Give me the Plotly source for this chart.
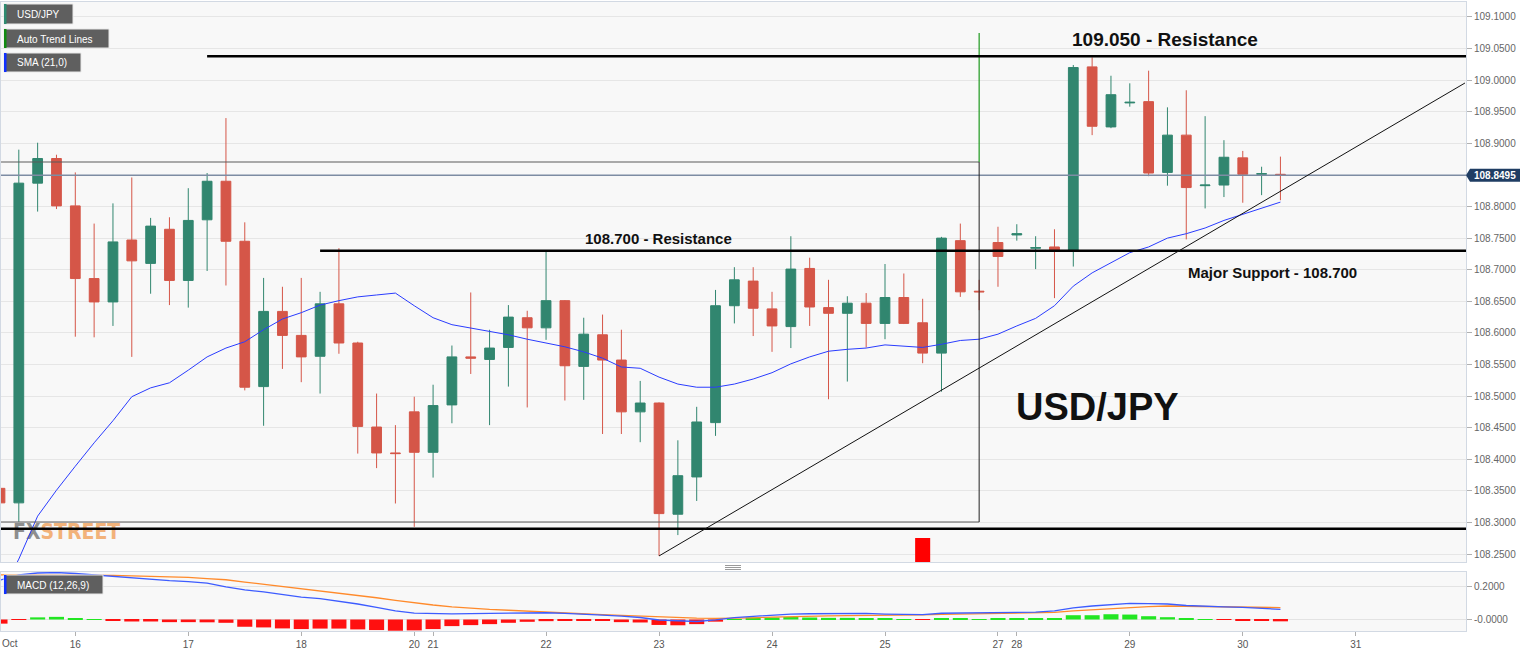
import plotly.graph_objects as go

# ---------------- DATA (4-hour candles, index 0 = Oct 16 00:00) ----------------
idx = list(range(-4, 65))

opens = [108.354, 108.331, 108.837, 108.876, 108.801, 108.686, 108.649, 108.747, 108.710, 108.764,
         108.683, 108.779, 108.840, 108.745, 108.515, 108.634, 108.596, 108.563, 108.646, 108.584,
         108.451, 108.410, 108.475, 108.411, 108.486, 108.562, 108.558, 108.577, 108.624, 108.608,
         108.651, 108.547, 108.597, 108.557, 108.475, 108.489, 108.313, 108.372, 108.458, 108.643,
         108.682, 108.638, 108.610, 108.702, 108.640, 108.631, 108.647, 108.615, 108.656, 108.616,
         108.568, 108.746, 108.666, 108.743, 108.755, 108.734, 108.736, 108.731, 109.021, 108.926,
         108.964, 108.966, 108.854, 108.913, 108.833, 108.834, 108.877, 108.851, 108.851]
highs = [108.410, 108.890, 108.901, 108.882, 108.854, 108.773, 108.805, 108.846, 108.782, 108.783,
         108.829, 108.853, 108.940, 108.775, 108.687, 108.673, 108.687, 108.665, 108.734, 108.586,
         108.504, 108.454, 108.499, 108.518, 108.580, 108.664, 108.605, 108.644, 108.635, 108.730,
         108.652, 108.624, 108.629, 108.605, 108.524, 108.490, 108.430, 108.483, 108.668, 108.704,
         108.704, 108.665, 108.753, 108.719, 108.684, 108.658, 108.663, 108.709, 108.694, 108.654,
         108.752, 108.773, 108.684, 108.768, 108.772, 108.753, 108.764, 109.024, 109.036, 109.007,
         108.995, 109.015, 108.957, 108.984, 108.943, 108.905, 108.888, 108.863, 108.879]
lows = [108.323, 108.301, 108.792, 108.796, 108.594, 108.593, 108.611, 108.562, 108.662, 108.644,
        108.640, 108.698, 108.675, 108.509, 108.453, 108.543, 108.522, 108.504, 108.567, 108.409,
        108.386, 108.330, 108.293, 108.371, 108.457, 108.535, 108.454, 108.515, 108.482, 108.589,
        108.493, 108.494, 108.440, 108.440, 108.427, 108.247, 108.280, 108.334, 108.437, 108.615,
        108.595, 108.570, 108.576, 108.611, 108.495, 108.523, 108.577, 108.590, 108.614, 108.552,
        108.507, 108.657, 108.636, 108.673, 108.746, 108.701, 108.655, 108.705, 108.913, 108.924,
        108.958, 108.848, 108.833, 108.748, 108.797, 108.815, 108.806, 108.818, 108.810]
closes = [108.331, 108.837, 108.876, 108.801, 108.686, 108.649, 108.744, 108.714, 108.769, 108.683,
          108.778, 108.840, 108.745, 108.514, 108.634, 108.596, 108.562, 108.646, 108.584, 108.452,
          108.410, 108.409, 108.411, 108.485, 108.562, 108.560, 108.576, 108.625, 108.608, 108.651,
          108.548, 108.598, 108.557, 108.475, 108.489, 108.314, 108.374, 108.459, 108.643, 108.684,
          108.639, 108.611, 108.701, 108.641, 108.631, 108.647, 108.615, 108.656, 108.615, 108.568,
          108.750, 108.665, 108.665, 108.721, 108.757, 108.735, 108.731, 109.020, 108.927, 108.977,
          108.965, 108.853, 108.913, 108.830, 108.834, 108.878, 108.851, 108.852, 108.8495]

sma21 = [108.184, 108.242, 108.310, 108.351, 108.389, 108.426, 108.461, 108.499, 108.513, 108.521,
         108.541, 108.562, 108.576, 108.586, 108.605, 108.622, 108.632, 108.644, 108.651, 108.657,
         108.660, 108.663, 108.643, 108.624, 108.613, 108.608, 108.603, 108.597, 108.590, 108.584,
         108.578, 108.570, 108.560, 108.546, 108.544, 108.530, 108.519, 108.514, 108.514, 108.519,
         108.527, 108.537, 108.551, 108.562, 108.571, 108.574, 108.576, 108.581, 108.579, 108.577,
         108.582, 108.588, 108.590, 108.598, 108.611, 108.623, 108.643, 108.674, 108.695, 108.711,
         108.727, 108.736, 108.750, 108.757, 108.766, 108.778, 108.788, 108.797, 108.807]

macd_line = [0.239, 0.270, 0.282, 0.285, 0.279, 0.270, 0.261, 0.252, 0.245, 0.236,
             0.230, 0.221, 0.198, 0.179, 0.167, 0.153, 0.136, 0.127, 0.112, 0.094,
             0.073, 0.052, 0.039, 0.035, 0.034, 0.036, 0.038, 0.039, 0.040, 0.041,
             0.037, 0.034, 0.027, 0.020, 0.012, -0.003, -0.008, -0.012, -0.002, 0.011,
             0.019, 0.027, 0.033, 0.035, 0.036, 0.037, 0.037, 0.033, 0.030, 0.030,
             0.038, 0.039, 0.040, 0.041, 0.043, 0.045, 0.052, 0.071, 0.082, 0.091,
             0.098, 0.096, 0.094, 0.085, 0.079, 0.076, 0.073, 0.067, 0.062]
signal_line = [0.270, 0.270, 0.270, 0.270, 0.270, 0.270, 0.268, 0.265, 0.262, 0.260,
               0.255, 0.248, 0.241, 0.227, 0.214, 0.201, 0.187, 0.174, 0.159, 0.145,
               0.132, 0.116, 0.101, 0.088, 0.077, 0.067, 0.061, 0.056, 0.050, 0.046,
               0.041, 0.036, 0.030, 0.025, 0.020, 0.015, 0.011, 0.008, 0.007, 0.007,
               0.010, 0.014, 0.018, 0.021, 0.022, 0.024, 0.024, 0.025, 0.027, 0.028,
               0.031, 0.033, 0.035, 0.037, 0.039, 0.040, 0.043, 0.052, 0.059, 0.068,
               0.073, 0.078, 0.082, 0.081, 0.079, 0.078, 0.076, 0.074, 0.072]
macd_hist = [-0.025, -0.003, 0.013, 0.016, 0.008, 0.002, -0.005, -0.012, -0.012, -0.016,
             -0.016, -0.017, -0.020, -0.044, -0.048, -0.054, -0.058, -0.055, -0.055, -0.060,
             -0.064, -0.068, -0.066, -0.058, -0.040, -0.034, -0.028, -0.020, -0.014, -0.010,
             -0.009, -0.009, -0.009, -0.016, -0.018, -0.033, -0.035, -0.028, -0.013, 0.003,
             0.012, 0.012, 0.015, 0.012, 0.010, 0.010, 0.006, 0.004, 0.002, -0.002,
             0.004, 0.004, 0.003, 0.005, 0.006, 0.006, 0.006, 0.026, 0.026, 0.032,
             0.030, 0.020, 0.014, 0.006, 0.001, -0.003, -0.008, -0.009, -0.011]

day_tick_idx = [0, 6, 12, 18, 19, 25, 31, 37, 43, 49, 50, 56, 62, 68]
day_tick_txt = ["16", "17", "18", "20", "21", "22", "23", "24", "25", "27", "28", "29", "30", "31"]

price_ticks = [109.10, 109.05, 109.00, 108.95, 108.90, 108.80, 108.75, 108.70, 108.65,
               108.60, 108.55, 108.50, 108.45, 108.40, 108.35, 108.30, 108.25]
macd_ticks = [0.0, 0.2]
macd_tick_txt = ["-0.0000", "0.2000"]

last_price = 108.8495
res_high = 109.038      # "109.050 - Resistance" line
res_mid = 108.730       # "108.700 - Resistance" line
support_low = 108.290
box_top, box_bottom, box_right = 108.8705, 108.3007, 48
green_top = 109.0747
trend_x = [31, 73.8]
trend_y = [108.247, 108.9955]
event_idx = 45
event_top = 108.2754

# ---------------- LAYOUT GEOMETRY ----------------
W, H = 1536, 655
L, R, T, B = 1, 70, 2, 24
PW, PH = W - L - R, H - T - B
def px(x):
    return (x - L) / PW
def py(y):
    return (H - B - y) / PH

XR = [-3.946, 73.855]
YR = [108.2374, 109.1237]
Y2R = [-0.0697, 0.288]

UP, DN = "#31866f", "#d55648"
FONT = "Liberation Sans, Arial, sans-serif"
AXC = "#d2d9e3"

# watermark position (pixel 13 -> data index) in the main pane
wm_x = XR[0] + (13 - L) / PW * (XR[1] - XR[0])
wm_y = 108.2817

fig = go.Figure()
fig.add_trace(go.Scatter(x=[wm_x], y=[wm_y], mode="text",
                         text=["<b><span style='color:#8e8e8e'>FX</span><span style='color:#f2b27a'>STREET</span></b>"],
                         textfont=dict(family="Liberation Sans Narrow, DejaVu Sans Condensed, sans-serif",
                                       size=21),
                         textposition="middle right", hoverinfo="skip", showlegend=False,
                         cliponaxis=False, xaxis="x", yaxis="y"))
fig.add_trace(go.Candlestick(x=idx, open=opens, high=highs, low=lows, close=closes,
                             increasing=dict(line=dict(color=UP, width=1), fillcolor=UP),
                             decreasing=dict(line=dict(color=DN, width=1), fillcolor=DN),
                             whiskerwidth=0, showlegend=False, hoverinfo="skip",
                             xaxis="x", yaxis="y"))
fig.add_trace(go.Scatter(x=idx, y=sma21, mode="lines", line=dict(color="#2a3cff", width=1),
                         showlegend=False, hoverinfo="skip", xaxis="x", yaxis="y"))

hist_colors = ["#22e622" if v >= 0 else "#ff1010" for v in macd_hist]
fig.add_trace(go.Bar(x=idx, y=macd_hist, marker=dict(color=hist_colors, line=dict(width=0)),
                     width=0.8, showlegend=False, hoverinfo="skip", xaxis="x2", yaxis="y2"))
fig.add_trace(go.Scatter(x=idx, y=signal_line, mode="lines", line=dict(color="#ff8a2b", width=1.3),
                         showlegend=False, hoverinfo="skip", xaxis="x2", yaxis="y2"))
fig.add_trace(go.Scatter(x=idx, y=macd_line, mode="lines", line=dict(color="#3d5cff", width=1.3),
                         showlegend=False, hoverinfo="skip", xaxis="x2", yaxis="y2"))

shapes = []
def hline(x0, x1, y, color, width):
    shapes.append(dict(type="line", xref="x", yref="y", x0=x0, x1=x1, y0=y, y1=y,
                       line=dict(color=color, width=width), layer="above"))

hline(XR[0], XR[1], last_price, "#7d8ca3", 1.3)
hline(XR[0], box_right, box_top, "#5a5a5a", 1.2)
hline(XR[0], box_right, box_bottom, "#5a5a5a", 1.2)
shapes.append(dict(type="line", xref="x", yref="y", x0=box_right, x1=box_right, y0=box_bottom, y1=box_top,
                   line=dict(color="#222", width=1), layer="above"))
shapes.append(dict(type="line", xref="x", yref="y", x0=box_right, x1=box_right, y0=box_top, y1=green_top,
                   line=dict(color="#1f9a1f", width=1.2), layer="above"))
hline(7, XR[1], res_high, "#000", 2.5)
hline(13, XR[1], res_mid, "#000", 2.5)
hline(XR[0], XR[1], support_low, "#000", 2.5)
shapes.append(dict(type="line", xref="x", yref="y", x0=trend_x[0], x1=trend_x[1], y0=trend_y[0], y1=trend_y[1],
                   line=dict(color="#111", width=1), layer="above"))
shapes.append(dict(type="rect", xref="x", yref="y", x0=event_idx - 0.4, x1=event_idx + 0.4,
                   y0=YR[0], y1=event_top, fillcolor="#ff0000", line=dict(width=0), layer="above"))

# legend boxes (top-left) and MACD label box
for (x0, y0, x1, y1, strip) in [(4, 4, 73, 24, "#2e8b70"), (4, 29, 109, 48, "#118a11"),
                                (4, 53, 81, 72, "#1030ff"), (4, 575, 103, 594, "#1030ff")]:
    shapes.append(dict(type="rect", xref="paper", yref="paper", x0=px(x0), x1=px(x1), y0=py(y1), y1=py(y0),
                       fillcolor="#5f5f5f", line=dict(color="#e8e8e8", width=1), layer="above"))
    shapes.append(dict(type="rect", xref="paper", yref="paper", x0=px(x0), x1=px(x0 + 2.5), y0=py(y1), y1=py(y0),
                       fillcolor=strip, line=dict(width=0), layer="above"))

# price label on the right axis
d = 0.0103
path = (f"M {px(1466)},{last_price} L {px(1470)},{last_price + d} L {px(1520)},{last_price + d} "
        f"L {px(1520)},{last_price - d} L {px(1470)},{last_price - d} Z")
shapes.append(dict(type="path", xref="paper", yref="y", path=path, fillcolor="#1f3d63",
                   line=dict(width=0), layer="above"))

# pane resize handle
for yy in [565.5, 567.5, 569.5]:
    shapes.append(dict(type="line", xref="paper", yref="paper", x0=px(725), x1=px(741), y0=py(yy), y1=py(yy),
                       line=dict(color="#9a9a9a", width=1), layer="above"))

annotations = []
def ann(text, x, y, size, color="#111", bold=False, xanchor="center", family=FONT):
    annotations.append(dict(text=f"<b>{text}</b>" if bold else text, xref="paper", yref="paper",
                            x=px(x), y=py(y), xanchor=xanchor, yanchor="middle", showarrow=False,
                            font=dict(size=size, color=color, family=family)))

ann("USD/JPY", 15, 14.5, 10, "#ffffff", xanchor="left")
ann("Auto Trend Lines", 15, 39, 10, "#ffffff", xanchor="left")
ann("SMA (21,0)", 15, 63, 10, "#ffffff", xanchor="left")
ann("MACD (12,26,9)", 15, 585, 10, "#ffffff", xanchor="left")
ann("109.050 - Resistance", 1165, 39, 19, bold=True)
ann("108.700 - Resistance", 658, 238, 15, bold=True)
ann("Major Support - 108.700", 1272, 272, 15, bold=True)
ann("USD/JPY", 1097, 407, 38, bold=True)
ann("Oct", 0, 643, 10, "#555", xanchor="left")
annotations.append(dict(text="<b>108.8495</b>", xref="paper", yref="y", x=px(1495), y=last_price,
                        xanchor="center", yanchor="middle", showarrow=False,
                        font=dict(size=10, color="#ffffff", family=FONT)))

main_bottom = py(562)
macd_top = py(572)

fig.update_layout(
    width=W, height=H, margin=dict(l=L, r=R, t=T, b=B),
    paper_bgcolor="#ffffff", plot_bgcolor="#f8f8f8",
    font=dict(family=FONT, size=10, color="#555"),
    showlegend=False, boxgap=0.26, bargap=0.2,
    shapes=shapes, annotations=annotations,
    xaxis=dict(domain=[0, 1], range=XR, anchor="y", showticklabels=False, ticks="",
               showgrid=False, zeroline=False, showline=True, linecolor=AXC, mirror=True,
               rangeslider=dict(visible=False), fixedrange=True),
    yaxis=dict(domain=[main_bottom, 1], range=YR, anchor="x", side="right",
               tickvals=price_ticks, ticktext=[f"{v:.4f}" for v in price_ticks],
               ticks="outside", ticklen=5, tickcolor="#b0b0b0",
               tickfont=dict(size=10, color="#666"),
               showgrid=True, gridcolor="#e6e6e6", gridwidth=1, zeroline=False,
               showline=True, linecolor=AXC, mirror=True),
    xaxis2=dict(domain=[0, 1], range=XR, anchor="y2", matches="x",
                tickvals=day_tick_idx, ticktext=day_tick_txt, ticks="outside", ticklen=4,
                tickcolor="#b0b0b0", tickfont=dict(size=10, color="#555"),
                showgrid=False, zeroline=False, showline=True, linecolor=AXC, mirror=True,
                rangeslider=dict(visible=False)),
    yaxis2=dict(domain=[0, macd_top], range=Y2R, anchor="x2", side="right",
                tickvals=macd_ticks, ticktext=macd_tick_txt, ticks="outside", ticklen=5,
                tickcolor="#b0b0b0", tickfont=dict(size=10, color="#666"),
                showgrid=True, gridcolor="#e3e3e3", zeroline=False,
                showline=True, linecolor=AXC, mirror=True),
)

fig.write_html("out.html", config={"displayModeBar": False},
               post_script="document.body.style.margin='0px';document.body.style.overflow='hidden';")
